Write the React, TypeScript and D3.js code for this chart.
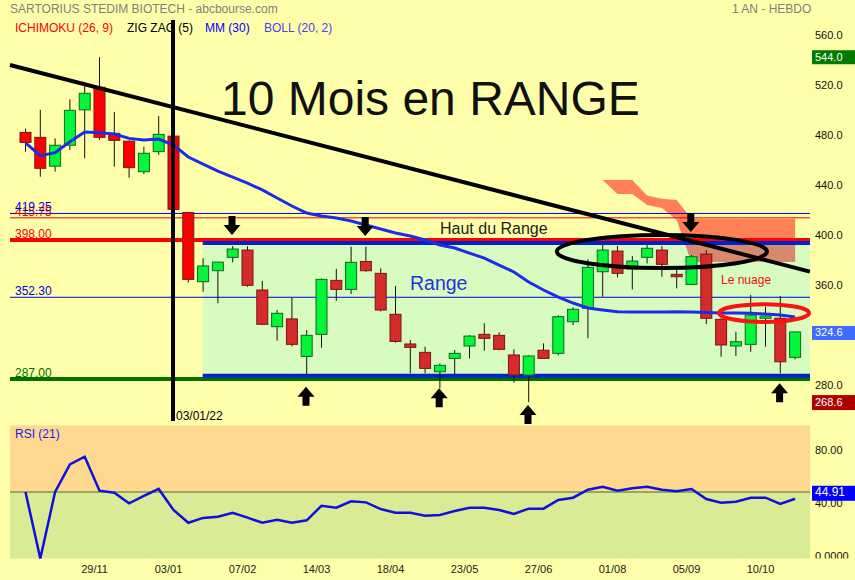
import React from "react";
import * as d3 from "d3";

// ---------- DATA ----------
const openP = [484, 480, 457, 473.7, 502, 520, 483.2, 477, 452.6, 468.6, 481, 420, 364.7, 373.5, 384.2, 390, 358.1, 328.8, 335, 305.1, 322.7, 365.8, 358.6, 380.9, 371.4, 338.7, 315, 308.3, 292.8, 303.5, 313.4, 322.7, 321.9, 306.2, 290.2, 310, 307.5, 332.8, 343.5, 372.7, 389.2, 374.9, 384.2, 390, 370.6, 362.6, 386.8, 334.7, 313.4, 314.7, 335.5, 335.5, 304.3];
const highP = [487, 502, 479.2, 510.4, 524, 544, 500.3, 477.5, 472.5, 497, 482, 420.4, 383.4, 380.4, 393.2, 393, 365.3, 342.1, 352, 326.1, 367.4, 374.9, 392.7, 392.7, 375.4, 361.3, 318.1, 312.8, 299.5, 310.2, 322.1, 331.5, 324.3, 310.7, 306, 315.5, 338.1, 344.3, 382.6, 394, 393.2, 385.2, 394, 393.2, 375.4, 386, 390, 335.5, 324.8, 354.1, 344.7, 353.3, 324.8];
const lowP = [468.5, 448.6, 452.6, 469.9, 463.3, 478, 456.6, 447.8, 450.7, 466, 420, 364, 356.7, 347.5, 380.2, 360.7, 330, 317.6, 313, 290.5, 312, 349.5, 354.9, 372.7, 341, 316, 291.6, 291.6, 279.6, 291, 303.5, 309.6, 310, 284, 268.6, 303, 306, 330.1, 319.5, 352.7, 368.2, 358.6, 379.4, 368.7, 359.4, 362, 330.9, 304.8, 305.4, 308.8, 312.8, 291.5, 302.7];
const closeP = [476, 455.3, 473.7, 501.6, 515.2, 480, 477.6, 455.8, 467.3, 482.4, 422.5, 366.6, 377.3, 380.4, 390.8, 361.8, 330.7, 339.5, 314.7, 321.9, 366.6, 358.6, 380.2, 373.5, 342.1, 317, 312.3, 295.5, 297.9, 307.5, 321.3, 319.5, 310.7, 290.2, 305.4, 303.5, 336.8, 342.7, 376.2, 390, 371.4, 381.2, 391.4, 378.6, 368.7, 384.7, 335.5, 314.2, 316.8, 338.1, 337.3, 300.8, 324.6];
const mm30 = [475.7, 465.4, 467.8, 476.5, 484.3, 483.7, 482.7, 479.2, 477.9, 478.7, 473.9, 464.3, 458.7, 453.1, 448.3, 443.5, 438, 431.6, 425.2, 419.6, 417.2, 415.6, 413.2, 410, 406.8, 403.6, 401.2, 398, 394, 391.6, 387.6, 383.6, 378, 372.5, 364.5, 358.1, 352.5, 347.7, 343.7, 342.1, 340.7, 340.5, 340.5, 340.5, 340.7, 340.5, 340.1, 339.7, 339.7, 339.5, 338.9, 338.1, 336.5];
const rsi21 = [50, 0, 50, 70.8, 76.5, 51, 49.5, 41.5, 47, 52.3, 36.5, 26.9, 30.5, 31.4, 34.4, 30.7, 26.9, 29.2, 26.9, 28.7, 39.7, 38.2, 43, 42.2, 37.2, 34.4, 34.4, 32.2, 32.7, 35.7, 38.2, 38.2, 36.5, 33.5, 37.5, 37.5, 44, 45.7, 51.7, 54, 51, 52.8, 54, 51.7, 50.5, 52.3, 44.7, 42, 42.7, 45.7, 45.7, 41, 44.9];
const cloudIdx = [39, 40, 41, 42, 43, 44, 45, 46, 47, 48, 49, 50, 51, 52];
const cloudUpper = [446, 446, 446, 433.5, 431, 430, 415, 415, 415, 415, 415, 415, 415, 415];
const cloudLower = [446, 434.8, 434.8, 426, 423.6, 414, 380.4, 380.4, 380.4, 380.4, 380.4, 380.4, 380.4, 380.4];
const xTickIdx = [5, 10, 15, 20, 25, 30, 35, 40, 45, 50];
const xTickLabels = ["29/11", "03/01", "07/02", "14/03", "18/04", "23/05", "27/06", "01/08", "05/09", "10/10"];
const yTicks = [560, 520, 480, 440, 400, 360, 280];
const rsiTicks = [80, 40, 0];
const rsiTickLabels = ["80.00", "40.00", "0.0000"];
const levelValues = [415.75, 419.25, 398, 352.3, 287];
const levelLabels = ["415.75", "419.25", "398.00", "352.30", "287.00"];
const levelColors = ["#ee0000", "#0000dd", "#ff0000", "#0000dd", "#007000"];
const levelWidths = [1, 1, 4, 1, 4];
const downArrowIdx = [14, 23, 45];
const downArrowPrice = [402, 401.2, 404.4];
const upArrowIdx = [19, 28, 34, 51];
const upArrowPrice = [280.8, 279.6, 266.3, 283.6];
const rangeTop = 395.6;
const rangeBottom = 289.6;
const rangeStartIdx = 12;
const trendStart = { i: -1.05, p: 537.8 };
const trendEnd = { i: 53.0, p: 372.8 };
const breakIdx = 10;
const highTag = 544.0;
const lowTag = 268.6;
const lastClose = 324.6;
const lastRsi = 44.91;

const FONT = "'Liberation Sans', Arial, Helvetica, sans-serif";

export default function App() {
  const x = d3.scaleLinear().domain([0, 52]).range([25.5, 795.1]);
  const y = d3.scaleLinear().domain([280, 560]).range([387.8, 37.2]);
  const yr = d3.scaleLinear().domain([0, 100]).range([558.5, 425.5]);
  const L = 10, R = 810;

  const maLine = d3.line<number>().x((_, i) => x(i)).y((d) => y(d))(mm30) || "";
  const rsiLine = d3.line<number>().x((_, i) => x(i)).y((d) => yr(d))(rsi21) || "";
  const cloudArea =
    d3
      .area<number>()
      .x((d) => x(d))
      .y0((_, k) => y(cloudLower[k]))
      .y1((_, k) => y(cloudUpper[k]))(cloudIdx) || "";

  const rx0 = x(rangeStartIdx) - 0.4;
  const ryTop = y(rangeTop);
  const ryBot = y(rangeBottom);

  const downArrow = (cx: number, ty: number) =>
    `M${cx - 3.5},${ty - 19} L${cx + 3.5},${ty - 19} L${cx + 3.5},${ty - 10} L${cx + 8.5},${ty - 10} L${cx},${ty} L${cx - 8.5},${ty - 10} L${cx - 3.5},${ty - 10} Z`;
  const upArrow = (cx: number, ty: number) =>
    `M${cx - 3.5},${ty + 19} L${cx + 3.5},${ty + 19} L${cx + 3.5},${ty + 10} L${cx + 8.5},${ty + 10} L${cx},${ty} L${cx - 8.5},${ty + 10} L${cx - 3.5},${ty + 10} Z`;

  const bw = 11;

  return (
    <svg
      width={855}
      height={580}
      style={{ position: "absolute", left: 0, top: 0, fontFamily: FONT }}
    >
      <defs>
        <clipPath id="rangeClip">
          <rect x={rx0} y={ryTop} width={R - rx0} height={ryBot - ryTop} />
        </clipPath>
        <clipPath id="rsiLblClip">
          <rect x={0} y={420} width={855} height={138.5} />
        </clipPath>
      </defs>
      <rect x={0} y={0} width={855} height={580} fill="#ffffaa" />

      {/* header */}
      <text x={10} y={13} fontSize={12} fill="#808080">SARTORIUS STEDIM BIOTECH - abcbourse.com</text>
      <text x={732} y={13} fontSize={12} fill="#808080">1 AN - HEBDO</text>
      <text x={15} y={32} fontSize={12} fill="#ff0000">ICHIMOKU (26, 9)</text>
      <text x={127} y={32} fontSize={12} fill="#000000">ZIG ZAG (5)</text>
      <text x={205} y={32} fontSize={12} fill="#0000ff">MM (30)</text>
      <text x={264} y={32} fontSize={12} fill="#4444ee">BOLL (20, 2)</text>

      {/* range fill */}
      <rect x={rx0} y={ryTop} width={R - rx0} height={ryBot - ryTop} fill="#d8fcc0" />

      {/* ichimoku cloud */}
      <path d={cloudArea} fill="#ff7f56" />
      <path d={cloudArea} fill="#d6896f" clipPath="url(#rangeClip)" />

      {/* level lines */}
      {levelValues.map((v, k) => (
        <line key={"lv" + k} x1={L} x2={R} y1={y(v)} y2={y(v)} stroke={levelColors[k]} strokeWidth={levelWidths[k]} />
      ))}
      {levelValues.map((v, k) => (
        <text key={"lt" + k} x={15} y={y(v) - 2} fontSize={12} fill={levelColors[k]}>
          {levelLabels[k]}
        </text>
      ))}

      {/* range borders */}
      <line x1={rx0} x2={R} y1={ryTop} y2={ryTop} stroke="#0022cc" strokeWidth={4} />
      <line x1={rx0} x2={R} y1={ryBot} y2={ryBot} stroke="#0022cc" strokeWidth={4} />

      {/* candles */}
      {openP.map((o, i) => {
        const c = closeP[i];
        const up = c >= o;
        const cx = x(i);
        const inRange = i >= rangeStartIdx;
        const fill = up ? "#05f53a" : inRange ? "#d42b2b" : "#ff0000";
        const stroke = up ? "#0a6a1a" : "#7a1515";
        const top = y(Math.max(o, c));
        const bot = y(Math.min(o, c));
        return (
          <g key={"c" + i}>
            <line x1={cx} x2={cx} y1={y(highP[i])} y2={y(lowP[i])} stroke="#111" strokeWidth={1} />
            <rect x={cx - bw / 2} y={top} width={bw} height={Math.max(1, bot - top)} fill={fill} stroke={stroke} strokeWidth={1} />
          </g>
        );
      })}

      {/* MM 30 */}
      <path d={maLine} fill="none" stroke="#1c2ce8" strokeWidth={3} />

      {/* annotations */}
      <text x={221} y={115} fontSize={48} fill="#111">10 Mois en RANGE</text>
      <text x={440} y={234} fontSize={16} fill="#222">Haut du Range</text>
      <text x={410} y={289.5} fontSize={19.5} fill="#2233dd">Range</text>
      <text x={721} y={284} fontSize={12} fill="#ee1111">Le nuage</text>

      <line
        x1={x(trendStart.i)}
        y1={y(trendStart.p)}
        x2={x(trendEnd.i)}
        y2={y(trendEnd.p)}
        stroke="#000"
        strokeWidth={4}
      />
      <line x1={x(breakIdx) - 0.5} x2={x(breakIdx) - 0.5} y1={20} y2={421} stroke="#000" strokeWidth={4} />
      <text x={176} y={420} fontSize={12} fill="#000">03/01/22</text>

      <ellipse cx={x(43.0)} cy={y(388.8)} rx={x(7.1) - x(0)} ry={y(0) - y(13.2)} fill="none" stroke="#000" strokeWidth={4} />
      <ellipse cx={x(49.9)} cy={y(339.7)} rx={x(3.04) - x(0)} ry={y(0) - y(7.1)} fill="none" stroke="#ff1111" strokeWidth={4} />

      {downArrowIdx.map((i, k) => (
        <path key={"da" + k} d={downArrow(x(i) - 0.7, y(downArrowPrice[k]))} fill="#000" />
      ))}
      {upArrowIdx.map((i, k) => (
        <path key={"ua" + k} d={upArrow(x(i) - 0.7, y(upArrowPrice[k]))} fill="#000" />
      ))}

      {/* right axis */}
      {yTicks.map((v) => (
        <text key={"yt" + v} x={815} y={y(v) - 1.5} fontSize={11} fill="#111" dominantBaseline="middle">
          {v.toFixed(1)}
        </text>
      ))}
      <rect x={812} y={y(highTag) - 7} width={43} height={14} fill="#007a00" />
      <text x={815} y={y(highTag) + 0.5} fontSize={11} fill="#fff" dominantBaseline="middle">{highTag.toFixed(1)}</text>
      <rect x={812} y={y(lastClose) - 6} width={43} height={14} fill="#3d6cff" />
      <text x={815} y={y(lastClose) + 1.5} fontSize={11} fill="#fff" dominantBaseline="middle">{lastClose.toFixed(1)}</text>
      <rect x={812} y={y(lowTag) - 7} width={43} height={15} fill="#b00000" />
      <text x={815} y={y(lowTag) + 1} fontSize={11} fill="#fff" dominantBaseline="middle">{lowTag.toFixed(1)}</text>

      {/* RSI panel */}
      <rect x={L} y={yr(100)} width={R - L} height={yr(50) - yr(100)} fill="#fdd88e" />
      <rect x={L} y={yr(50)} width={R - L} height={yr(0) - yr(50)} fill="#d9eb94" />
      <line x1={L} x2={R} y1={yr(50)} y2={yr(50)} stroke="#4a6a2a" strokeWidth={1} />
      <path d={rsiLine} fill="none" stroke="#1010dd" strokeWidth={2.5} />
      <text x={15} y={438} fontSize={12} fill="#1a1aee">RSI (21)</text>
      <g clipPath="url(#rsiLblClip)">
        {rsiTicks.map((v, k) => (
          <text key={"rt" + v} x={815} y={yr(v) - 1.5} fontSize={11} fill="#111" dominantBaseline="middle">
            {rsiTickLabels[k]}
          </text>
        ))}
      </g>
      <rect x={812} y={yr(lastRsi) - 13} width={43} height={15} fill="#0000ff" />
      <text x={815} y={yr(lastRsi) - 5.5} fontSize={12} fill="#fff" dominantBaseline="middle">{lastRsi.toFixed(2)}</text>

      {/* x axis */}
      {xTickIdx.map((i, k) => (
        <text key={"xt" + i} x={x(i) - 5} y={573} fontSize={11} fill="#222" textAnchor="middle">
          {xTickLabels[k]}
        </text>
      ))}
    </svg>
  );
}
